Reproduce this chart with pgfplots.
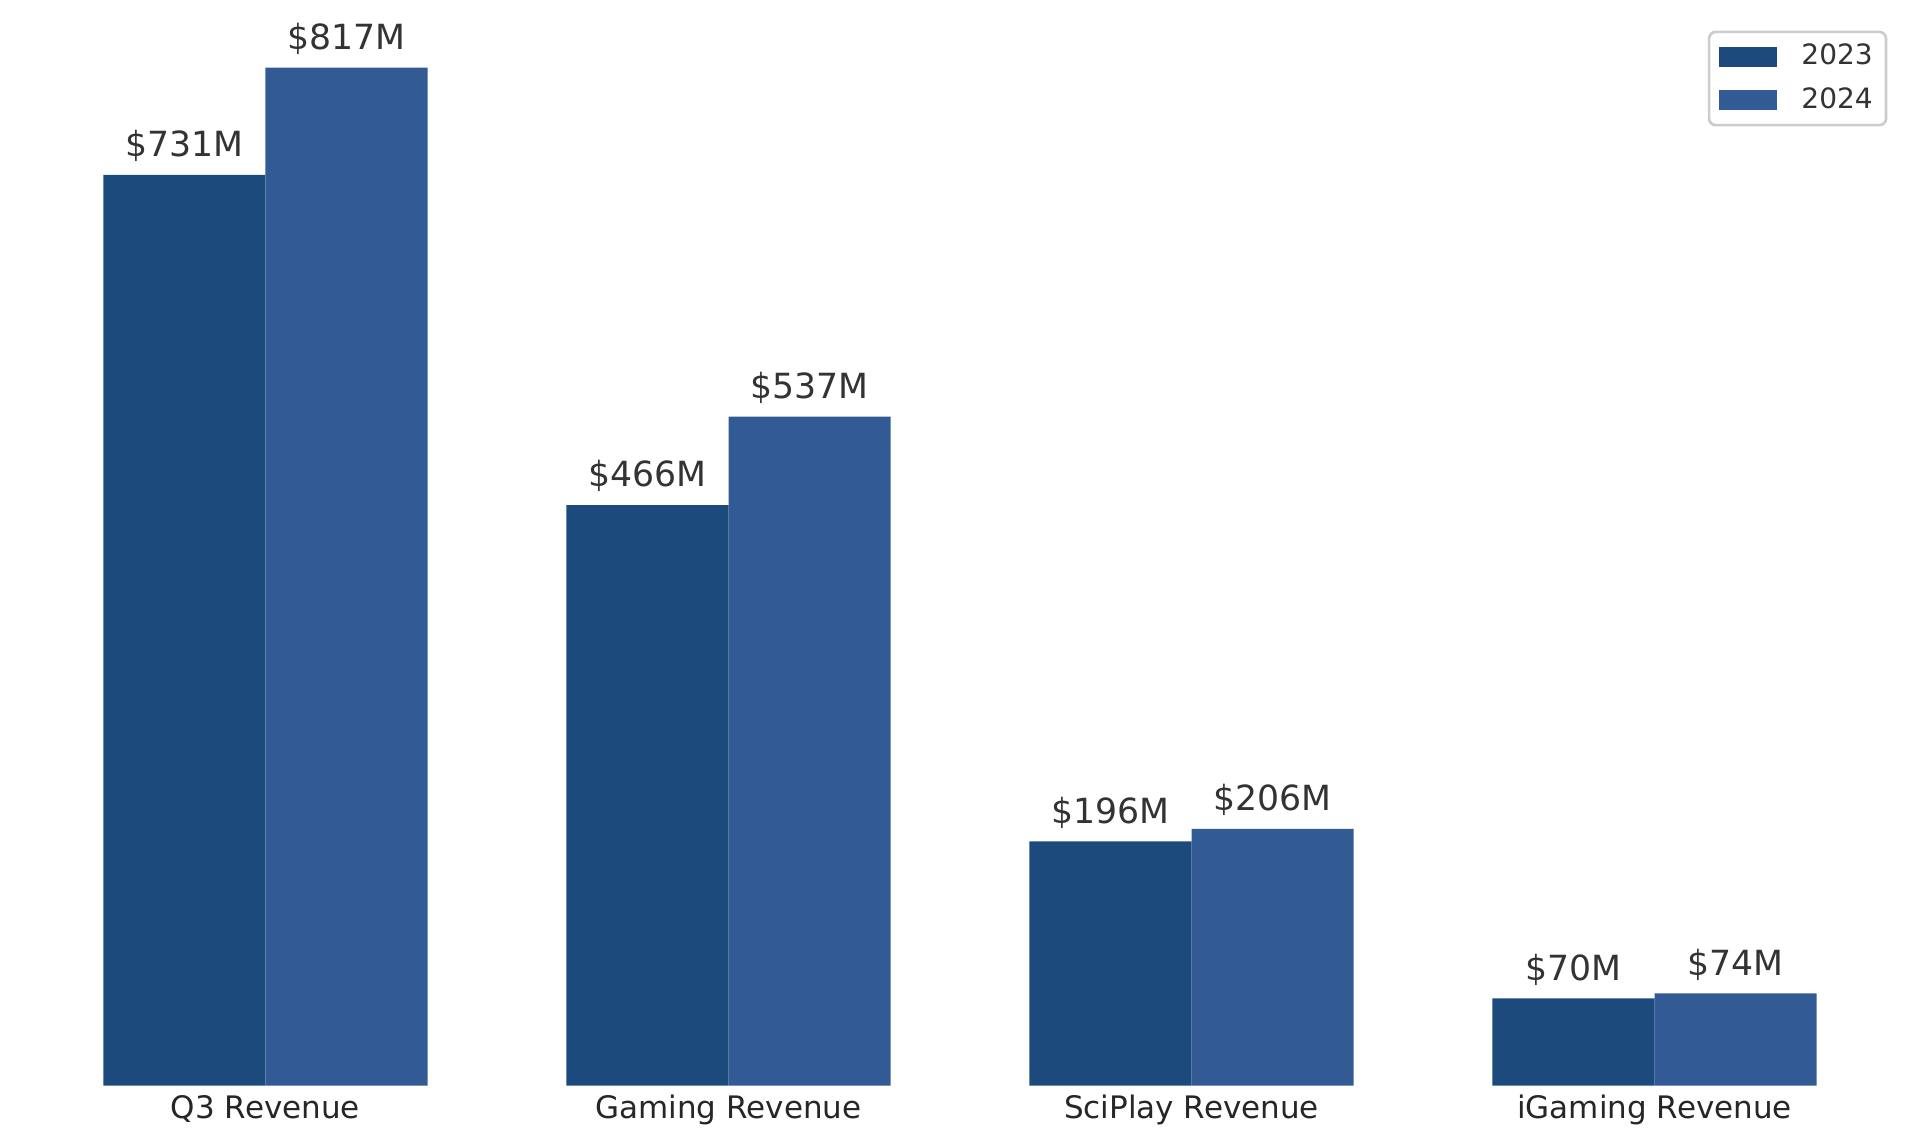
\documentclass[border=0pt]{standalone}
\usepackage{fontspec}
\setmainfont{DejaVu Sans}
\usepackage{pgfplots}
\pgfplotsset{compat=1.18}
\definecolor{cA}{RGB}{28,74,125}
\definecolor{cB}{RGB}{50,91,150}
\definecolor{lbl}{HTML}{333333}
\definecolor{tck}{HTML}{262626}
\definecolor{lgd}{HTML}{CCCCCC}
\begin{document}
\begin{tikzpicture}
\begin{axis}[
  at={(0pt,16.9pt)}, anchor=south west,
  scale only axis, width=576pt, height=305.4pt,
  xmin=-0.5734, xmax=3.5734, ymin=0, ymax=817,
  enlargelimits=false, clip=false,
  /pgf/number format/assume math mode=true,
  ybar, bar width=0.35, bar shift=0pt,
  hide y axis, axis x line*=bottom,
  x axis line style={draw=none},
  xtick={0,1,2,3},
  xticklabels={Q3 Revenue, Gaming Revenue, SciPlay Revenue, iGaming Revenue},
  xtick style={draw=none}, major tick length=0pt,
  xticklabel style={anchor=base, yshift=-9.8pt, inner sep=0pt, font=\fontsize{9.3}{11}\selectfont, text=tck},
  point meta=y,
  nodes near coords={\$\pgfmathprintnumber{\pgfplotspointmeta}M},
  every node near coord/.append style={anchor=base, yshift=5.5pt, inner sep=0pt, font=\fontsize{10.4}{12}\selectfont, text=lbl},
  legend style={at={(0.983,1.0364)}, anchor=north east, draw=lgd, line width=0.8pt, rounded corners=2pt,
    font=\fontsize{8.4}{10}\selectfont, text=lbl, inner xsep=2pt, inner ysep=1.6pt, row sep=1.3pt,
    /tikz/every even column/.append style={column sep=2.4pt}},
  legend cell align=left,
]
\addplot[fill=cA, draw=none, legend image code/.code={\fill[cA, sharp corners] (0pt,-3pt) rectangle (17.5pt,3pt); \path[draw=none,fill=none] (-1pt,0pt) -- (22.7pt,0pt);}]
  coordinates {(-0.175,731) (0.825,466) (1.825,196) (2.825,70)};
\addlegendentry{2023}
\addplot[fill=cB, draw=none, legend image code/.code={\fill[cB, sharp corners] (0pt,-3pt) rectangle (17.5pt,3pt); \path[draw=none,fill=none] (-1pt,0pt) -- (22.7pt,0pt);}]
  coordinates {(0.175,817) (1.175,537) (2.175,206) (3.175,74)};
\addlegendentry{2024}
\end{axis}
\pgfresetboundingbox
\path (0,0) rectangle (576pt,342.6pt);
\end{tikzpicture}
\end{document}
